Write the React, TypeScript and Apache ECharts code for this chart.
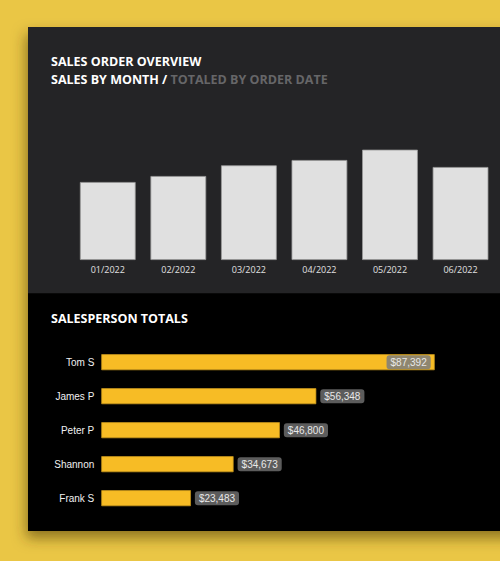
import React, { useEffect, useRef } from "react";
import * as echarts from "echarts";

const months = ["01/2022", "02/2022", "03/2022", "04/2022", "05/2022", "06/2022"];
const monthSales = [35100, 37800, 42600, 45000, 49650, 41850];

const people = ["Tom S", "James P", "Peter P", "Shannon", "Frank S"];
const personTotals = [87392, 56348, 46800, 34673, 23483];

const fmt = (v: number) => "$" + v.toLocaleString("en-US");

export default function App() {
  const ref = useRef<HTMLDivElement>(null);
  useEffect(() => {
    document.body.style.margin = "0";
    const chart = echarts.init(ref.current!, undefined, { renderer: "svg" });
    const titleFont = "'Open Sans', 'Noto Sans', sans-serif";
    chart.setOption({
      animation: false,
      backgroundColor: "#EAC645",
      graphic: [
        {
          type: "rect",
          z: -20,
          shape: { x: 28, y: 27, width: 490, height: 504 },
          style: {
            fill: "#000",
            shadowBlur: 14,
            shadowColor: "rgba(60,45,0,0.55)",
            shadowOffsetX: -2,
            shadowOffsetY: 7,
          },
        },
        {
          type: "rect",
          z: -19,
          shape: { x: 28, y: 27, width: 490, height: 266.3 },
          style: { fill: "#242426" },
        },
        {
          type: "text",
          z: 5,
          x: 51,
          y: 61,
          style: {
            text: "SALES ORDER OVERVIEW",
            fill: "#ffffff",
            font: `bold 12.5px ${titleFont}`,
            verticalAlign: "middle",
          },
        },
        {
          type: "text",
          z: 5,
          x: 51,
          y: 79.5,
          style: {
            text: "{w|SALES BY MONTH / }{g|TOTALED BY ORDER DATE}",
            verticalAlign: "middle",
            rich: {
              w: { fill: "#ffffff", font: `bold 12.5px ${titleFont}` },
              g: { fill: "#666668", font: `bold 12.5px ${titleFont}` },
            },
          },
        },
        {
          type: "text",
          z: 5,
          x: 51,
          y: 318,
          style: {
            text: "SALESPERSON TOTALS",
            fill: "#ffffff",
            font: `bold 12.5px ${titleFont}`,
            verticalAlign: "middle",
          },
        },
      ],
      grid: [
        { left: 72.5, width: 423.3, top: 100, height: 160 },
        { left: 101.3, width: 381.5, top: 345.2, height: 170 },
      ],
      xAxis: [
        {
          type: "category",
          gridIndex: 0,
          data: months,
          z: 5,
          axisLine: { show: false },
          axisTick: { show: false },
          axisLabel: {
            color: "#e0e0e0",
            fontSize: 9,
            fontFamily: titleFont,
            margin: 5,
            interval: 0,
          },
        },
        {
          type: "value",
          gridIndex: 1,
          min: 0,
          max: 100000,
          show: false,
          splitLine: { show: false },
        },
      ],
      yAxis: [
        {
          type: "value",
          gridIndex: 0,
          min: 0,
          max: 72000,
          show: false,
          splitLine: { show: false },
        },
        {
          type: "category",
          gridIndex: 1,
          data: people,
          inverse: true,
          z: 5,
          axisLine: { show: false },
          axisTick: { show: false },
          axisLabel: {
            color: "#f0f0f0",
            fontSize: 10,
            fontFamily: "'Liberation Sans', Arial, sans-serif",
            margin: 7,
          },
        },
      ],
      series: [
        {
          type: "bar",
          xAxisIndex: 0,
          yAxisIndex: 0,
          data: monthSales,
          barCategoryGap: "21%",
          itemStyle: { color: "#E0E0E0", borderColor: "#9a9a9a", borderWidth: 0.8 },
          z: 3,
        },
        {
          type: "bar",
          xAxisIndex: 1,
          yAxisIndex: 1,
          barCategoryGap: "53%",
          itemStyle: { color: "#F7BC25", borderColor: "#c9981c", borderWidth: 0.7 },
          z: 3,
          label: {
            show: true,
            position: "right",
            distance: 4,
            formatter: (p: any) => fmt(p.value),
            color: "#e8e8e8",
            fontSize: 10,
            fontFamily: "'Liberation Sans', Arial, sans-serif",
            backgroundColor: "#5c5c5c",
            borderRadius: 3,
            padding: [2, 4, 2, 4],
          },
          data: personTotals.map((v, i) =>
            i === 0
              ? {
                  value: v,
                  label: {
                    position: "insideRight",
                    distance: 4,
                    backgroundColor: "#8e8670",
                  },
                }
              : { value: v }
          ),
        },
      ],
    });
    return () => chart.dispose();
  }, []);
  return <div ref={ref} style={{ width: 500, height: 561 }} />;
}
